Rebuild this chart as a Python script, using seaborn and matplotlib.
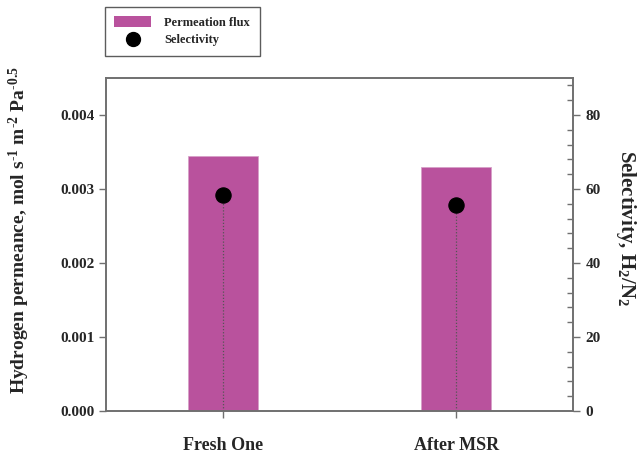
import matplotlib
matplotlib.use("Agg")
import matplotlib.pyplot as plt
import seaborn as sns
import pandas as pd
from matplotlib.patches import Patch
from matplotlib.lines import Line2D
from matplotlib.ticker import MultipleLocator

samples = ["Fresh One", "After MSR"]
permeance = [0.00345, 0.00330]
selectivity = [58.5, 55.8]

sns.set_style("white")
plt.rcParams["font.family"] = ["Liberation Serif", "DejaVu Serif"]
plt.rcParams["font.weight"] = "bold"
plt.rcParams["mathtext.fontset"] = "custom"
plt.rcParams["mathtext.rm"] = "Liberation Serif:bold"
plt.rcParams["mathtext.it"] = "Liberation Serif:bold"
plt.rcParams["mathtext.bf"] = "Liberation Serif:bold"
plt.rcParams["mathtext.default"] = "rm"

bar_color = "#b9529d"
spine_color = "#707070"

df = pd.DataFrame({"sample": samples, "permeance": permeance, "selectivity": selectivity})

fig = plt.figure(figsize=(6.44, 4.53), dpi=100)
ax = fig.add_axes([106 / 644, 1 - 411 / 453, (573 - 106) / 644, (411 - 78) / 453])

sns.barplot(data=df, x="sample", y="permeance", color=bar_color, saturation=1,
            width=0.30, ax=ax, edgecolor="#d7a0c8", linewidth=0.6)
ax.set_xlim(-0.5, 1.5)
ax.set_ylim(0, 0.0045)
ax.set_yticks([0.000, 0.001, 0.002, 0.003, 0.004])
ax.set_yticklabels(["0.000", "0.001", "0.002", "0.003", "0.004"])
ax.set_xlabel("")
ax.set_ylabel("Hydrogen permeance, mol s$^{\u2010 1}$ m$^{\u2010 2}$ Pa$^{\u2010 0.5}$",
              fontsize=14, fontweight="bold")
ax.yaxis.set_label_coords(-0.158, 0.543)
ax.tick_params(axis="y", direction="out", length=5, width=1, color=spine_color,
               labelsize=11, pad=3, left=True)
ax.tick_params(axis="x", direction="out", length=5, width=1, color=spine_color,
               labelsize=13, pad=14, bottom=True)
for lab in ax.get_xticklabels() + ax.get_yticklabels():
    lab.set_fontweight("bold")

ax2 = ax.twinx()
ax2.set_ylim(0, 90)
ax2.vlines(range(len(samples)), 0, selectivity, colors="#555555",
           linestyles=(0, (1, 1.5)), linewidth=0.9, zorder=2)
sns.scatterplot(x=list(range(len(samples))), y=selectivity, ax=ax2, color="black",
                s=120, edgecolor="black", zorder=3, legend=False)
ax2.set_yticks([0, 20, 40, 60, 80])
ax2.yaxis.set_minor_locator(MultipleLocator(4))
ax2.tick_params(axis="y", which="major", direction="out", length=5, width=1,
                color=spine_color, labelsize=11, pad=4, right=True)
ax2.tick_params(axis="y", which="minor", direction="in", length=4, width=1,
                color=spine_color, right=True)
ax2.set_ylabel("Selectivity, H$_2$/N$_2$", fontsize=15, fontweight="bold",
               rotation=270)
ax2.yaxis.set_label_coords(1.14, 0.55)
for lab in ax2.get_yticklabels():
    lab.set_fontweight("bold")

for a in (ax, ax2):
    for sp in a.spines.values():
        sp.set_visible(True)
        sp.set_color(spine_color)
        sp.set_linewidth(1.2)

handles = [Patch(facecolor=bar_color, edgecolor="none", label="Permeation flux"),
           Line2D([0], [0], marker="o", color="none", markerfacecolor="black",
                  markeredgecolor="black", markersize=10, label="Selectivity")]
leg = fig.legend(handles=handles, loc="upper left", bbox_to_anchor=(105 / 644, 1 - 7 / 453),
                 frameon=True, fancybox=False, prop={"family": "Liberation Serif",
                 "weight": "bold", "size": 9}, handlelength=2.9, handleheight=0.9,
                 borderpad=0.75, labelspacing=0.4, handletextpad=1.1, borderaxespad=0)
leg.get_frame().set_edgecolor("#333333")
leg.get_frame().set_linewidth(1.0)

fig.savefig("out.png", dpi=100)
